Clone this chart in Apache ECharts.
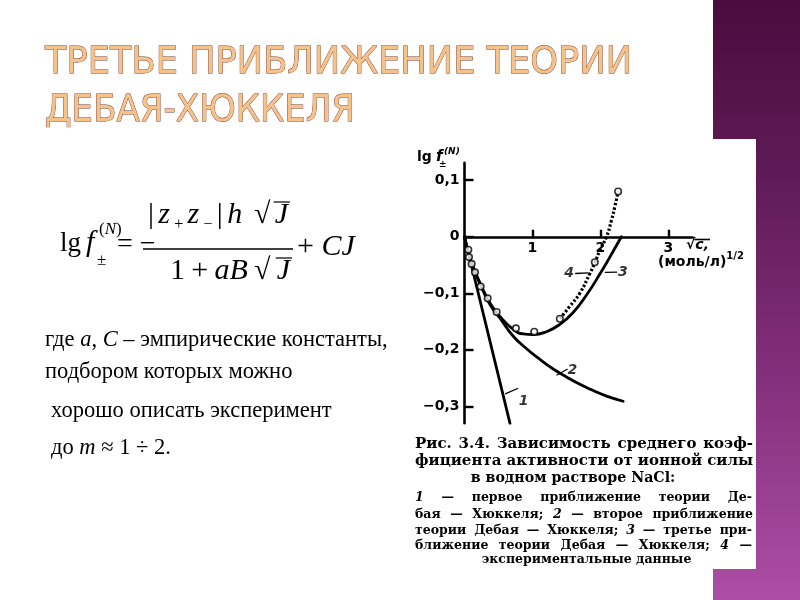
<!DOCTYPE html>
<html><head><meta charset="utf-8">
<script src="https://cdn.jsdelivr.net/npm/echarts@6/dist/echarts.min.js"></script>
<style>html,body{margin:0;padding:0;background:#fff}#c{width:800px;height:600px}</style>
</head><body><div id="c"></div>
<script>
// ================= DATA =================
const xTickValues = [1, 2, 3];
const yTickValues = [-0.3, -0.2, -0.1, 0, 0.1];
// curve 1: first approximation (limiting law)
const curve1X = [0, 0.67];
const curve1Y = [0, -0.33];
// curve 2: second approximation
const curve2X = [0, 0.05, 0.105, 0.228, 0.375, 0.522, 0.718, 0.914, 1.11, 1.306, 1.502, 1.699, 1.895, 2.091, 2.336];
const curve2Y = [0, -0.025, -0.047, -0.083, -0.12, -0.144, -0.176, -0.198, -0.217, -0.234, -0.248, -0.261, -0.272, -0.282, -0.291];
// curve 3: third approximation
const curve3X = [0, 0.05, 0.105, 0.228, 0.375, 0.522, 0.718, 0.865, 1.012, 1.208, 1.404, 1.6, 1.797, 1.993, 2.14, 2.31];
const curve3Y = [0, -0.025, -0.047, -0.082, -0.117, -0.141, -0.164, -0.172, -0.173, -0.168, -0.155, -0.134, -0.103, -0.066, -0.036, 0];
// curve 4: experimental (dotted)
const curve4X = [1.404, 1.551, 1.699, 1.846, 1.919, 1.993, 2.091, 2.164, 2.213, 2.262];
const curve4Y = [-0.145, -0.123, -0.0997, -0.065, -0.046, -0.024, 0, 0.029, 0.053, 0.08];
// experimental points
const expX = [0.056, 0.066, 0.105, 0.154, 0.238, 0.341, 0.473, 0.757, 1.027, 1.404, 1.919, 2.262];
const expY = [-0.023, -0.036, -0.048, -0.063, -0.088, -0.109, -0.133, -0.162, -0.168, -0.145, -0.045, 0.08];
// curve number labels and their leader lines
const curveLabels = ['1', '2', '3', '4'];
const labelX = [0.87, 1.59, 2.33, 1.54];
const labelY = [-0.292, -0.236, -0.063, -0.064];
const leaderX1 = [0.6, 1.355, 2.066, 1.63];
const leaderY1 = [-0.278, -0.245, -0.063, -0.065];
const leaderX2 = [0.79, 1.517, 2.248, 1.82];
const leaderY2 = [-0.268, -0.234, -0.0625, -0.064];

// ================= TEXT HELPERS =================
const mctx = document.createElement('canvas').getContext('2d');
function mw(t, font) { mctx.font = font; return mctx.measureText(t).width; }
const K = 0.34;
const G = [];
function txt(t, x, base, font, fs, extra) {
  const el = {type: 'text', x: x, y: base - K * fs, z: 50, silent: true,
    style: {text: t, font: font, fill: '#000', align: 'left', verticalAlign: 'middle'}};
  if (extra) { Object.assign(el.style, extra.style || {}); if (extra.el) Object.assign(el, extra.el); }
  G.push(el);
}
function fontOf(p, fam) { return (p.st || 'normal') + ' ' + (p.w || 'normal') + ' ' + p.fs + 'px ' + (p.fam || fam); }
function run(pieces, x, base, fam, target) {
  let extra = 0;
  if (target) {
    const tot = pieces.reduce((a, p) => a + mw(p.t, fontOf(p, fam)), 0);
    extra = (target - tot) / Math.max(1, pieces.length - 1);
  }
  let cx = x;
  pieces.forEach((p, i) => {
    const font = fontOf(p, fam);
    txt(p.t, cx + (p.dx || 0), base + (p.dy || 0), font, p.fs);
    p.x0 = cx; cx += mw(p.t, font) + (p.dx || 0); p.x1 = cx;
    if (i < pieces.length - 1) cx += extra;
  });
  return cx;
}
function line(x1, y1, x2, y2, w) {
  G.push({type: 'line', z: 50, silent: true, shape: {x1, y1, x2, y2}, style: {stroke: '#000', lineWidth: w || 1.2}});
}
function justLine(s, x1, x2, base, fam, fs0, weight) {
  const words = s.split(' ');
  let fs = fs0, fonts, widths, total;
  for (;;) {
    fonts = words.map(w => (/^[1-4]$/.test(w) ? 'italic ' : 'normal ') + weight + ' ' + fs + 'px ' + fam);
    widths = words.map((w, i) => mw(w, fonts[i]));
    total = widths.reduce((a, b) => a + b, 0);
    if (total + 3 * (words.length - 1) <= (x2 - x1) || fs < 8) break;
    fs -= 0.25;
  }
  const gap = (x2 - x1 - total) / (words.length - 1);
  let cx = x1;
  words.forEach((w, i) => { txt(w, cx, base, fonts[i], fs); cx += widths[i] + gap; });
}
function centerLine(s, x1, x2, base, fam, fs, weight) {
  const font = 'normal ' + weight + ' ' + fs + 'px ' + fam;
  const w = mw(s, font);
  txt(s, (x1 + x2) / 2 - w / 2, base, font, fs);
}

// ================= BACKGROUND =================
G.push({type: 'rect', z: -20, silent: true, shape: {x: 713, y: 0, width: 87, height: 600},
  style: {fill: new echarts.graphic.LinearGradient(0, 0, 0, 1, [
    {offset: 0, color: '#4a0c3e'}, {offset: 0.3, color: '#601b58'},
    {offset: 0.65, color: '#86317e'}, {offset: 1, color: '#ac4ea5'}])}});
G.push({type: 'rect', z: -19, silent: true, shape: {x: 408, y: 139, width: 348, height: 430}, style: {fill: '#ffffff'}});

// ================= TITLE =================
(function () {
  const fs = 38;
  const font = 'normal normal ' + fs + 'px "DejaVu Sans"';
  const lines = [['ТРЕТЬЕ ПРИБЛИЖЕНИЕ ТЕОРИИ', 45, 76, 587], ['ДЕБАЯ-ХЮККЕЛЯ', 45, 124, 310]];
  lines.forEach(l => {
    const w = mw(l[0], font);
    G.push({type: 'text', x: l[1], y: l[2] - K * fs, z: 50, silent: true, scaleX: l[3] / w, scaleY: 1,
      style: {text: l[0], font: font, fill: '#f6c28c', stroke: '#74392a', lineWidth: 0.9,
        align: 'left', verticalAlign: 'middle'}});
  });
})();

// ================= FORMULA =================
(function () {
  const F = '"Liberation Serif"';
  run([{t: 'lg', fs: 27}], 60, 253, F);
  run([{t: 'f', fs: 30, st: 'italic'}], 86, 253, F);
  run([{t: '(', fs: 17}, {t: 'N', fs: 17, st: 'italic'}, {t: ')', fs: 17}], 99, 235, F);
  run([{t: '±', fs: 17}], 97, 266, F);
  run([{t: '=', fs: 28}, {t: ' −', fs: 28}], 117, 254, F);
  line(143, 249, 293, 249, 1.6);
  const num = [{t: '|', fs: 30}, {t: 'z', fs: 30, st: 'italic'}, {t: '+', fs: 16, dy: 5},
    {t: 'z', fs: 30, st: 'italic'}, {t: '−', fs: 16, dy: 5}, {t: '|', fs: 30},
    {t: 'h', fs: 30, st: 'italic'}, {t: ' √', fs: 30}, {t: 'J', fs: 30, st: 'italic'}];
  run(num, 148, 225, F, 140);
  line(num[8].x0 - 1, 202, num[8].x1 + 2, 202, 1.2);
  const den = [{t: '1', fs: 30}, {t: '+', fs: 30}, {t: 'aB', fs: 30, st: 'italic'}, {t: '√', fs: 30}, {t: 'J', fs: 30, st: 'italic'}];
  run(den, 170, 281, F, 120);
  line(den[4].x0 - 1, 258, den[4].x1 + 2, 258, 1.2);
  run([{t: '+ ', fs: 30}, {t: 'CJ', fs: 30, st: 'italic'}], 297, 257, F);
})();

// ================= LEFT TEXT =================
(function () {
  const F = '"Liberation Serif"';
  const target = 343;
  const L1 = fsz => [{t: 'где ', fs: fsz}, {t: 'a', fs: fsz, st: 'italic'}, {t: ', ', fs: fsz},
    {t: 'C', fs: fsz, st: 'italic'}, {t: ' – эмпирические константы,', fs: fsz}];
  const wOf = pcs => pcs.reduce((a, p) => a + mw(p.t, fontOf(p, F)), 0);
  const fs = 22 * target / wOf(L1(22));
  run(L1(fs), 45, 348, F);
  run([{t: 'подбором которых можно', fs: fs}], 45, 380, F);
  run([{t: 'хорошо описать эксперимент', fs: fs}], 51, 419, F);
  run([{t: 'до ', fs: fs}, {t: 'm', fs: fs, st: 'italic'}, {t: ' ≈ 1 ÷ 2.', fs: fs}], 51, 456, F);
})();

// ================= CHART ANNOTATION TEXT =================
(function () {
  const F = '"DejaVu Sans"';
  run([{t: 'lg', fs: 14, w: 'bold'}], 417, 162, F);
  run([{t: 'f', fs: 15, w: 'bold', st: 'italic'}], 436, 162, F);
  run([{t: '(N)', fs: 9, w: 'bold', st: 'italic'}], 444, 155, F);
  run([{t: '±', fs: 9, w: 'bold'}], 439, 168, F);
  const sq = [{t: '√', fs: 14, w: 'bold'}, {t: 'c,', fs: 14, w: 'bold', st: 'italic'}];
  run(sq, 686, 250, F);
  line(sq[1].x0 - 1, 239.5, sq[1].x1 + 1, 239.5, 1.6);
  run([{t: '(моль/л)', fs: 14, w: 'bold'}, {t: '1/2', fs: 10, w: 'bold', dy: -7}], 658, 267, F);
})();

// ================= CAPTION =================
(function () {
  const F = '"DejaVu Serif"';
  justLine('Рис. 3.4. Зависимость среднего коэф-', 415, 753, 449, F, 15, 'bold');
  justLine('фициента активности от ионной силы', 415, 753, 466, F, 15, 'bold');
  centerLine('в водном растворе NaCl:', 482, 664, 483, F, 14.2, 'bold');
  justLine('1 — первое приближение теории Де-', 415, 752, 502, F, 12.5, 'bold');
  justLine('бая — Хюккеля; 2 — второе приближение', 415, 753, 518.5, F, 12.5, 'bold');
  justLine('теории Дебая — Хюккеля; 3 — третье при-', 415, 752, 534.5, F, 12.5, 'bold');
  justLine('ближение теории Дебая — Хюккеля; 4 —', 415, 752, 550, F, 12.5, 'bold');
  centerLine('экспериментальные данные', 480, 693, 563.5, F, 12.5, 'bold');
})();

// ================= CHART =================
const zip = (xs, ys) => xs.map((x, i) => [x, ys[i]]);
const lineSeries = (xs, ys, extra) => Object.assign({
  type: 'line', data: zip(xs, ys), symbol: 'none', showSymbol: false, silent: true,
  lineStyle: {color: '#000', width: 2.8, cap: 'round', join: 'round'}, z: 5
}, extra || {});

const series = [
  lineSeries(curve1X, curve1Y),
  lineSeries(curve2X, curve2Y, {smooth: 0.5}),
  lineSeries(curve3X, curve3Y, {smooth: 0.5}),
  lineSeries(curve4X, curve4Y, {smooth: 0.5,
    lineStyle: {color: '#000', width: 3.2, type: [2.4, 2], cap: 'butt'}}),
  {type: 'scatter', data: zip(expX, expY), symbol: 'circle', symbolSize: 6.5, silent: true, z: 8,
    itemStyle: {color: '#fff', borderColor: '#000', borderWidth: 1.6}}
];
curveLabels.forEach((lab, i) => {
  series.push(lineSeries([leaderX1[i], leaderX2[i]], [leaderY1[i], leaderY2[i]], {lineStyle: {color: '#000', width: 1.3}}));
});
series.push({type: 'scatter', symbolSize: 0, silent: true, z: 9,
  data: curveLabels.map((lab, i) => ({name: lab, value: [labelX[i], labelY[i]]})),
  label: {show: true, position: 'inside', formatter: '{b}', color: '#000', fontFamily: 'DejaVu Sans',
    fontSize: 14, fontWeight: 'bold', fontStyle: 'italic'}});

const fmtY = v => v === 0 ? '0' : String(v).replace('.', ',').replace('-', '−');
const axisFont = {color: '#000', fontFamily: 'DejaVu Sans', fontWeight: 'bold', fontSize: 14};

const yMin = -0.33, yMax = 0.131, gridTop = 162.7, gridH = 260.6;
const zeroOffset = -(gridH * (0 - yMin) / (yMax - yMin));

const option = {
  animation: false,
  backgroundColor: 'transparent',
  grid: {left: 464.5, top: gridTop, width: 228.2, height: gridH, containLabel: false, outerBoundsMode: 'none'},
  xAxis: {type: 'value', min: 0, max: 3.36, position: 'bottom', offset: zeroOffset,
    axisLine: {onZero: false, lineStyle: {color: '#000', width: 2.6}},
    axisTick: {inside: true, length: 7, customValues: xTickValues, lineStyle: {color: '#000', width: 2.4}},
    axisLabel: Object.assign({customValues: xTickValues, margin: 5}, axisFont),
    splitLine: {show: false}},
  yAxis: {type: 'value', min: yMin, max: yMax,
    axisLine: {onZero: false, lineStyle: {color: '#000', width: 2.6}},
    axisTick: {inside: true, length: 9, customValues: yTickValues, lineStyle: {color: '#000', width: 2.4}},
    axisLabel: Object.assign({customValues: yTickValues, margin: 5, formatter: fmtY}, axisFont),
    splitLine: {show: false}},
  series: series,
  graphic: {elements: G}
};
const chart = echarts.init(document.getElementById('c'), null, {renderer: 'canvas'});
chart.setOption(option);
</script></body></html>
